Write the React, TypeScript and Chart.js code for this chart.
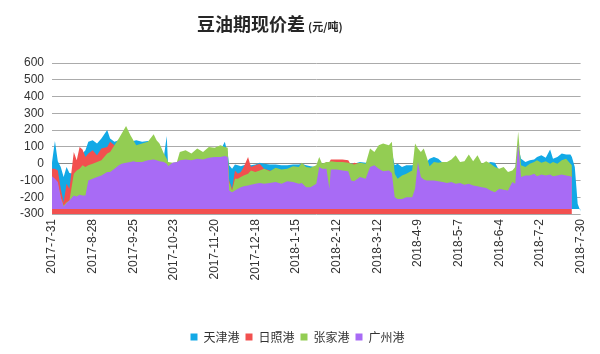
import React, { useEffect, useRef } from 'react';
import { Chart, registerables } from 'chart.js';

Chart.register(...registerables);

// Day offsets counted from 2017-7-31
const dayOffsets = [
  0, 2, 4, 6, 8, 10, 12, 15, 17, 19, 21, 23, 25, 28, 31, 34, 38, 40, 43, 46, 48, 51, 54, 56,
  58, 62, 66, 70, 72, 74, 77, 79, 80, 83, 86, 88, 92, 96, 100, 104, 108, 112, 116, 119, 121, 122, 124,
  126, 128, 130, 132, 135, 137, 140, 143, 146, 150, 154, 158, 162, 166, 170, 172, 175, 178, 182,
  184, 186, 189, 191, 192, 196, 200, 204, 206, 208, 212, 216, 219, 222, 225, 228, 232, 234, 236, 238, 241, 244,
  248, 250, 252, 254, 256, 258, 260, 263, 266, 269, 272, 275, 278, 281, 284, 287, 290, 293, 296, 299, 302, 305,
  308, 311, 314, 317, 319, 321, 323, 326, 329, 332, 334, 337, 340, 343, 345, 348, 351, 354, 357, 358, 360, 362, 364,
];

const tianjin: (number | null)[] = [
  10, 135, 15, -20, -80, -20, -55, -60, -40, -20, 60, 80, 130, 140, 120, 150, 200, 150, 130, 140, 150, 150, 120, 135,
  140, 130, 135, 120, 100, 100, 40, 165, -20, -10, -10, 40, 50, 40, 60, 50, 70, 70, 80, 130, 60, -10, -30,
  -5, -10, -15, -10, 0, -10, -5, 5, 0, -5, -5, -10, -10, -5, -5, 0, -10, -15, -20,
  -20, -10, -5, -5, -5, 0, 5, 0, -5, 0, 10, 5, 20, 20, 50, 60, 60, 70, -10, 0, -20, -10,
  -10, 0, 0, 0, 0, 10, 30, 40, 30, 5, 0, 0, 20, 0, 0, 20, 0, 20, -10, 0, 10, 5,
  -40, -30, -60, -50, -30, 100, 30, 10, 20, 25, 40, 50, 35, 85, 30, 40, 60, 55, 55, 40, -20, -240, -285,
];

const rizhao: (number | null)[] = [
  -30, -30, -40, -150, -230, -120, -150, 70, 20, 100, 85, 40, 60, 80, 50, 90, 100, 130, 110, 100, 100, 100, 80, 80,
  70, 80, 90, 100, 90, 80, 20, 10, -20, -20, -20, 30, 40, 30, 50, 40, 60, 60, 70, 70, 40, -100, -150,
  -40, -60, -50, -20, 40, -20, -10, 0, -30, -40, -50, -50, -50, -40, -40, -40, -40, -40, -40,
  -30, -10, 10, 10, 25, 25, 25, 20, -10, 5, 0, -10, 10, 10, 30, 40, 40, 50, -80, -100, -100, -90,
  -80, -60, -50, -50, -50, -40, -40, -40, -40, -40, -40, -40, -40, -40, -40, -40, -40, -40, -40, -40, -50, -50,
  -60, -60, -70, -60, -50, -40, -40, -40, -40, -40, -40, -40, -40, -40, -40, -40, -40, -40, -40, -40, null, null, null,
];

const zhangjiagang: (number | null)[] = [
  -80, -100, -120, -200, -250, -230, -220, -60, -40, -30, -10, -20, -10, 0, 10, 20, 60, 70, 110, 150, 180, 225, 170, 140,
  110, 120, 130, 175, 140, 120, 60, 30, 10, 5, 10, 70, 80, 60, 90, 70, 100, 95, 110, 100, 95, -110, -160,
  -90, -90, -80, -70, -60, -40, -50, -40, -30, -45, -25, -35, -30, -15, -20, 5, -20, -25, -10,
  40, 0, 10, 10, 15, 10, 10, 5, 0, -5, 5, 0, 90, 70, 110, 120, 110, 130, -60, -90, -70, -60,
  -40, 120, 90, 70, 90, 40, -15, 10, 5, 10, 10, 25, 50, 10, 15, 55, 15, 50, 0, 15, 0, -20,
  -30, -20, -50, -40, -20, 190, -10, -20, 0, 10, 20, 5, 15, 0, 10, 0, 20, 30, 0, -10, null, null, null,
];

const guangzhou: (number | null)[] = [
  -75, -90, -110, -200, -255, -235, -220, -190, -195, -185, -190, -190, -100, -90, -80, -70, -50, -50, -30, -10, 0, 5, 10, 15,
  10, 10, 20, 25, 20, 15, 10, 0, -15, 5, 10, 20, 25, 20, 30, 25, 35, 40, 40, 45, 40, -160, -170,
  -160, -150, -140, -135, -130, -125, -120, -115, -120, -115, -110, -120, -105, -110, -120, -115, -140, -140, -120,
  -20, -30, -30, -150, -35, -35, -40, -45, -100, -105, -80, -90, -20, -10, -30, -45, -40, -55, -200, -210, -210, -200,
  -200, -150, 10, -80, -95, -100, -100, -100, -105, -110, -115, -110, -120, -115, -125, -120, -130, -135, -140, -145, -160, -170,
  -150, -155, -160, -110, -120, 120, -80, -70, -70, -60, -75, -65, -70, -65, -75, -70, -65, -70, -75, -80, null, null, null,
];

const xTickLabels = [
  '2017-7-31', '2017-8-28', '2017-9-25', '2017-10-23', '2017-11-20', '2017-12-18', '2018-1-15',
  '2018-2-12', '2018-3-12', '2018-4-9', '2018-5-7', '2018-6-4', '2018-7-2', '2018-7-30',
];

const seriesNames = ['天津港', '日照港', '张家港', '广州港'];
const seriesColors = ['#12A9E6', '#F2504F', '#93CD53', '#A86BF5'];

const FONT = "'Liberation Sans', 'Noto Sans CJK SC', sans-serif";

const titlePlugin = {
  id: 'customTitle',
  afterDraw(chart: any) {
    const ctx = chart.ctx;
    ctx.save();
    ctx.fillStyle = '#262626';
    ctx.textBaseline = 'alphabetic';
    ctx.font = "bold 18px 'Noto Sans CJK SC', sans-serif";
    const main = '豆油期现价差';
    ctx.fillText(main, 197, 31);
    const w = ctx.measureText(main).width;
    ctx.font = "bold 11px 'Noto Sans CJK SC', sans-serif";
    ctx.fillText('(元/吨)', 197 + w + 3, 31);
    ctx.restore();
  },
};

export default function App() {
  const ref = useRef<HTMLCanvasElement>(null);

  useEffect(() => {
    const toPts = (arr: (number | null)[]) => dayOffsets.map((d, i) => ({ x: d, y: arr[i] }));
    const base = { pointRadius: 0, borderWidth: 0, tension: 0 };
    // index 0 is drawn on top in Chart.js; legend reversed to read 天津港 first
    const datasets: any[] = [
      { ...base, label: seriesNames[3], data: toPts(guangzhou), backgroundColor: seriesColors[3], borderColor: seriesColors[3], fill: { value: -270 } },
      { ...base, label: seriesNames[2], data: toPts(zhangjiagang), backgroundColor: seriesColors[2], borderColor: seriesColors[2], fill: { value: -270 } },
      { ...base, label: seriesNames[1], data: toPts(rizhao), backgroundColor: seriesColors[1], borderColor: seriesColors[1], fill: 'start' },
      { ...base, label: seriesNames[0], data: toPts(tianjin), backgroundColor: seriesColors[0], borderColor: seriesColors[0], fill: { value: -270 } },
    ];

    const chart = new Chart(ref.current!, {
      type: 'line',
      data: { datasets },
      plugins: [titlePlugin],
      options: {
        animation: false,
        responsive: false,
        layout: { padding: { left: 12, right: 17, top: 63, bottom: 1 } },
        plugins: {
          legend: {
            position: 'bottom',
            reverse: true,
            labels: {
              boxWidth: 7,
              boxHeight: 7,
              padding: 6,
              color: '#333',
              font: { size: 12, family: "'Noto Sans CJK SC', sans-serif" },
            },
          },
          tooltip: { enabled: false },
          title: { display: false },
        },
        scales: {
          x: {
            type: 'linear',
            min: 0,
            max: 364,
            afterFit: (scale: any) => {
              scale.height = 111;
            },
            ticks: {
              stepSize: 28,
              autoSkip: false,
              maxRotation: 90,
              minRotation: 90,
              padding: 5,
              color: '#333',
              font: { size: 12, family: FONT },
              callback: (v: any) => xTickLabels[Math.round(Number(v) / 28)] ?? '',
            },
            grid: { display: false, drawTicks: false },
            border: { display: false },
          },
          y: {
            min: -300,
            max: 600,
            ticks: {
              stepSize: 100,
              autoSkip: false,
              padding: 8,
              color: '#333',
              font: { size: 12, family: FONT },
            },
            grid: {
              drawTicks: false,
              color: (c: any) => (c.tick && c.tick.value === 0 ? '#8a8a8a' : '#ababab'),
            },
            border: { display: false },
          },
        },
      },
    });
    return () => chart.destroy();
  }, []);

  return (
    <div style={{ position: 'fixed', left: 0, top: 0, width: 600, height: 354, background: '#fff' }}>
      <canvas ref={ref} width={600} height={354} style={{ display: 'block' }} />
    </div>
  );
}
